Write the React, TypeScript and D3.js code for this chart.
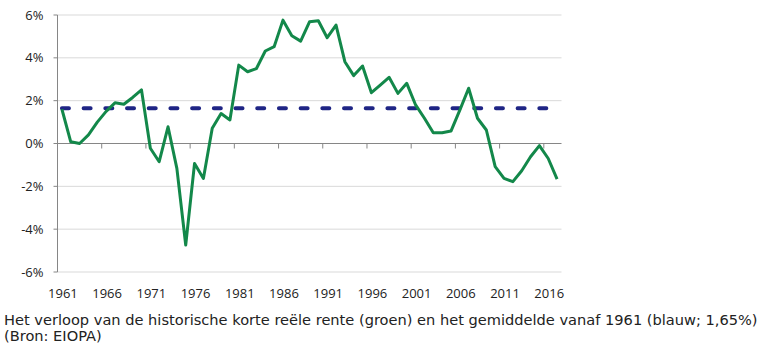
import * as d3 from 'd3';
import React, { useEffect, useRef } from 'react';

// Korte reële rente per jaar (%)
const years: number[] = d3.range(1961, 2018);
const realRate: number[] = [
  1.6, 0.08, 0.0, 0.4, 1.0, 1.5, 1.9, 1.83, 2.15, 2.5,
  -0.22, -0.85, 0.78, -1.16, -4.74, -0.93, -1.63, 0.71, 1.4, 1.1,
  3.66, 3.35, 3.5, 4.32, 4.52, 5.76, 5.03, 4.78, 5.68, 5.73,
  4.94, 5.53, 3.82, 3.17, 3.62, 2.37, 2.73, 3.09, 2.34, 2.81,
  1.8, 1.18, 0.5, 0.5, 0.58, 1.56, 2.58, 1.18, 0.63, -1.08,
  -1.63, -1.78, -1.27, -0.62, -0.1, -0.7, -1.66,
];
const averageRate = 1.65;
const yTicks: number[] = [-6, -4, -2, 0, 2, 4, 6];
const captionLines: string[] = [
  'Het verloop van de historische korte reële rente (groen) en het gemiddelde vanaf 1961 (blauw; 1,65%)',
  '(Bron: EIOPA)',
];

const W = 768;
const H = 353;

const App: React.FC = () => {
  const svgRef = useRef<SVGSVGElement>(null);

  useEffect(() => {
    if (!svgRef.current) return;
    const svg = d3.select(svgRef.current);
    svg.selectAll('*').remove();

    const left = 57.5;
    const right = 561.5;
    const top = 15;
    const bottom = 272;

    const x = d3.scaleBand<number>()
      .domain(years)
      .range([left, right])
      .padding(0);
    const y = d3.scaleLinear().domain([-6, 6]).range([bottom, top]);
    const cx = (yr: number) => (x(yr) || 0) + x.bandwidth() / 2;

    // Grid lines
    svg.append('g')
      .selectAll('line')
      .data(yTicks.filter(t => t !== 0))
      .join('line')
      .attr('x1', left)
      .attr('x2', right)
      .attr('y1', d => y(d))
      .attr('y2', d => y(d))
      .attr('stroke', '#d9d9d9')
      .attr('stroke-width', 1);

    // Y axis
    const yAxis = svg.append('g');
    yAxis.append('line')
      .attr('x1', left).attr('x2', left)
      .attr('y1', top).attr('y2', bottom)
      .attr('stroke', '#868686');
    yAxis.selectAll('line.tick')
      .data(yTicks)
      .join('line')
      .attr('class', 'tick')
      .attr('x1', left - 4).attr('x2', left)
      .attr('y1', d => y(d)).attr('y2', d => y(d))
      .attr('stroke', '#868686');
    yAxis.selectAll('text')
      .data(yTicks)
      .join('text')
      .attr('x', 43.5)
      .attr('y', d => y(d))
      .attr('dy', '0.35em')
      .attr('text-anchor', 'end')
      .attr('font-family', '"Open Sans", sans-serif')
      .attr('font-size', 13)
      .attr('fill', '#222')
      .text(d => `${d}%`);

    // X axis at 0
    const xAxis = svg.append('g');
    xAxis.append('line')
      .attr('x1', left).attr('x2', right)
      .attr('y1', y(0)).attr('y2', y(0))
      .attr('stroke', '#868686');
    const tickYears = years.filter((yr, i) => i % 5 === 0 && i > 0);
    xAxis.selectAll('line.tick')
      .data(tickYears)
      .join('line')
      .attr('class', 'tick')
      .attr('x1', d => x(d) || 0).attr('x2', d => x(d) || 0)
      .attr('y1', y(0)).attr('y2', y(0) + 5)
      .attr('stroke', '#868686');
    svg.append('g')
      .selectAll('text')
      .data(years.filter((yr, i) => i % 5 === 0))
      .join('text')
      .attr('x', d => cx(d) + 1)
      .attr('y', 298)
      .attr('text-anchor', 'middle')
      .attr('font-family', '"Open Sans", sans-serif')
      .attr('font-size', 13)
      .attr('fill', '#222')
      .text(d => String(d));

    // Average line (blue, dashed)
    svg.append('line')
      .attr('x1', cx(years[0]))
      .attr('x2', cx(years[years.length - 1]))
      .attr('y1', y(averageRate))
      .attr('y2', y(averageRate))
      .attr('stroke', '#1f2585')
      .attr('stroke-width', 4)
      .attr('stroke-linecap', 'round')
      .attr('stroke-dasharray', '7,14.7');

    // Real rate line (green)
    const line = d3.line<number>()
      .x((d, i) => cx(years[i]))
      .y(d => y(d));
    svg.append('path')
      .datum(realRate)
      .attr('d', line)
      .attr('fill', 'none')
      .attr('stroke', '#13884a')
      .attr('stroke-width', 3)
      .attr('stroke-linejoin', 'round');

    // Caption
    svg.append('g')
      .selectAll('text')
      .data(captionLines)
      .join('text')
      .attr('x', 4)
      .attr('y', (d, i) => 325 + i * 16)
      .attr('font-family', '"DejaVu Sans", Verdana, sans-serif')
      .attr('font-size', 14.6)
      .attr('fill', '#222')
      .text(d => d);
  }, []);

  return (
    <svg
      ref={svgRef}
      width={W}
      height={H}
      style={{ position: 'absolute', left: 0, top: 0, background: '#fff' }}
    />
  );
};

export default App;
